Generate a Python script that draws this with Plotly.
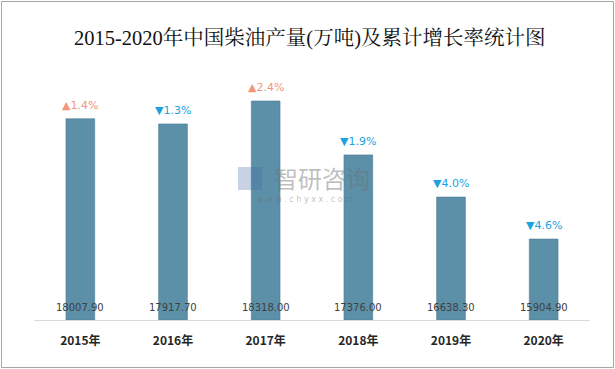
import plotly.graph_objects as go

years = ["2015年", "2016年", "2017年", "2018年", "2019年", "2020年"]
output = [18007.90, 17917.70, 18318.00, 17376.00, 16638.30, 15904.90]
growth = [1.4, -1.3, 2.4, -1.9, -4.0, -4.6]

W, H = 615, 369
ml, mr, mt, mb = 34, 25, 62, 49
y_min, y_max = 14490, 19000

fig = go.Figure()
fig.add_trace(go.Bar(
    x=years, y=[v - y_min for v in output], base=y_min,
    marker=dict(color="#5B90A8", line=dict(color="#4B7D95", width=0.6)),
    width=0.31, hoverinfo="skip",
))

ann = []
for yr, v, g in zip(years, output, growth):
    up = g > 0
    ann.append(dict(x=yr, y=v, xref="x", yref="y", yanchor="bottom", yshift=5,
                    text=("▲" if up else "▼") + f"{abs(g):.1f}%", showarrow=False,
                    font=dict(family="Verdana, DejaVu Sans", size=11,
                              color="#F2957A" if up else "#1AA3DE")))
    ann.append(dict(x=yr, y=y_min, xref="x", yref="y", yanchor="middle", yshift=13,
                    text=f"{v:.2f}", showarrow=False,
                    font=dict(family="Verdana, DejaVu Sans", size=10, color="#404040")))

pw, ph = W - ml - mr, H - mt - mb
def px(x): return (x - ml) / pw
def py(y): return (H - mb - y) / ph

ann.append(dict(x=px(309), y=py(25), xref="paper", yref="paper", showarrow=False,
                text="2015-2020年中国柴油产量(万吨)及累计增长率统计图",
                font=dict(family="Liberation Serif, Noto Serif CJK SC, Noto Sans CJK SC", size=20.5, color="#111111")))
ann.append(dict(x=px(322), y=py(177), xref="paper", yref="paper", showarrow=False,
                text="智研咨询", font=dict(family="Noto Sans CJK SC", size=24, color="rgba(110,110,110,0.45)")))
ann.append(dict(x=px(305), y=py(199), xref="paper", yref="paper", showarrow=False,
                text="w w w . c h y x x . c o m", font=dict(family="DejaVu Sans", size=8, color="rgba(110,110,110,0.45)")))

shapes = [
    dict(type="rect", xref="paper", yref="paper", x0=px(1.5), x1=px(613.5), y0=py(367.5), y1=py(1.5),
         line=dict(color="#A6A6A6", width=1)),
    dict(type="rect", xref="paper", yref="paper", x0=px(238), x1=px(262), y0=py(190), y1=py(167),
         line=dict(width=0), fillcolor="rgba(70,110,170,0.3)"),
]

fig.update_layout(
    width=W, height=H, margin=dict(l=ml, r=mr, t=mt, b=mb),
    paper_bgcolor="white", plot_bgcolor="white", showlegend=False,
    annotations=ann, shapes=shapes, bargap=0.69,
    xaxis=dict(showgrid=False, showline=True, linecolor="#D9D9D9", linewidth=1,
               ticks="", tickfont=dict(family="Noto Sans CJK SC", size=12, color="#262626", weight="bold"),
               ticklabelstandoff=10),
    yaxis=dict(range=[y_min, y_max], visible=False, showgrid=False),
)
fig.write_html("out.html", config={"displayModeBar": False},
               post_script="document.body.style.margin='0';document.body.style.overflow='hidden';")
